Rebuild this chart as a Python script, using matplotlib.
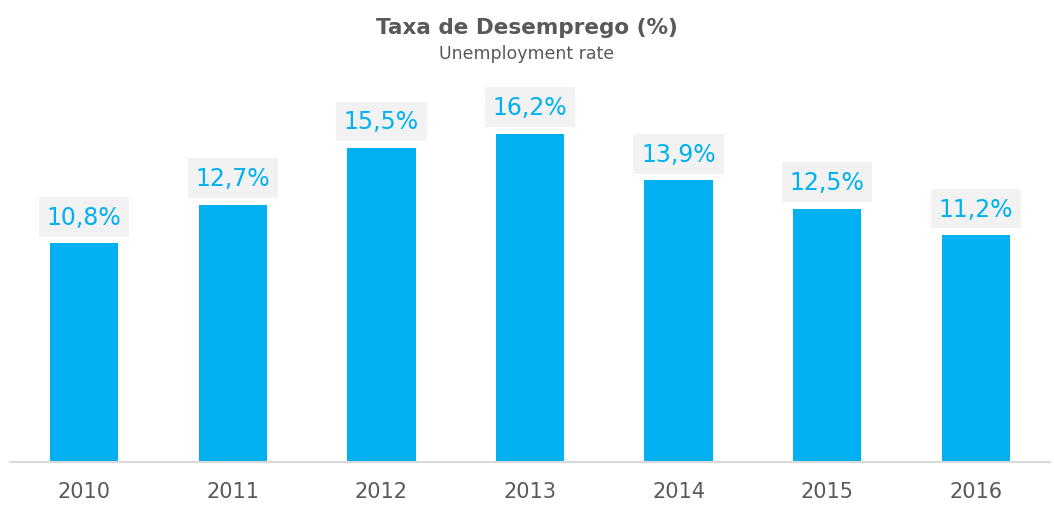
import matplotlib.pyplot as plt

anos = ['2010', '2011', '2012', '2013', '2014', '2015', '2016']
taxa = [10.8, 12.7, 15.5, 16.2, 13.9, 12.5, 11.2]
rotulos = ['10,8%', '12,7%', '15,5%', '16,2%', '13,9%', '12,5%', '11,2%']

azul = '#00B0F0'

fig = plt.figure(figsize=(10.54, 5.06), dpi=100)
ax = fig.add_axes([0.0095, 0.085, 0.9867, 0.757])

x = range(len(anos))
ax.bar(x, taxa, width=0.46, color=azul)

for xi, v, r in zip(x, taxa, rotulos):
    ax.annotate(r, (xi, v), xytext=(0, 19), textcoords='offset points',
                ha='center', va='center', fontsize=17, color=azul,
                bbox=dict(boxstyle='square,pad=0.33', fc='#F2F2F2', ec='none'))

ax.set_xlim(-0.5, len(anos) - 0.5)
ax.set_ylim(0, 18.9)
ax.set_xticks(list(x))
ax.set_xticklabels(anos, fontsize=15, color='#595959')
ax.tick_params(axis='x', length=0, pad=14)
ax.set_yticks([])
for s in ['top', 'right', 'left']:
    ax.spines[s].set_visible(False)
ax.spines['bottom'].set_color('#D9D9D9')
ax.spines['bottom'].set_linewidth(1.5)

fig.text(0.5, 0.944, 'Taxa de Desemprego (%)', ha='center', va='center',
         fontsize=15.5, fontweight='bold', color='#595959')
fig.text(0.5, 0.893, 'Unemployment rate', ha='center', va='center',
         fontsize=12.5, color='#595959')

plt.savefig('out.png', dpi=100)
